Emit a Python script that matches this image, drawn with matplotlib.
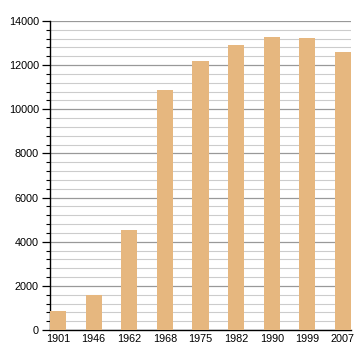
import matplotlib
matplotlib.use("Agg")
import matplotlib.pyplot as plt
from matplotlib.ticker import MultipleLocator

years = ["1901", "1946", "1962", "1968", "1975", "1982", "1990", "1999", "2007"]
population = [870, 1570, 4530, 10870, 12190, 12910, 13280, 13230, 12600]

plt.rcParams['font.family'] = ['Liberation Sans', 'DejaVu Sans']

fig = plt.figure(figsize=(3.6, 3.6), dpi=100)
ax = fig.add_axes([50/360, 30/360, 301/360, 309/360])

x = list(range(len(years)))
ax.bar(x, population, width=0.45, color="#E6B77F", zorder=3)

ax.set_xlim(-0.225, len(years) - 1 + 0.225)
ax.set_ylim(0, 14000)
ax.set_xticks(x)
ax.set_xticklabels(years)
ax.yaxis.set_major_locator(MultipleLocator(2000))
ax.yaxis.set_minor_locator(MultipleLocator(400))

ax.grid(axis='y', which='major', color='#999999', linewidth=0.9, zorder=0)
ax.grid(axis='y', which='minor', color='#cccccc', linewidth=0.8, zorder=0)

for s in ['top', 'right']:
    ax.spines[s].set_visible(False)
ax.spines['left'].set_linewidth(1.0)
ax.spines['bottom'].set_linewidth(1.0)

ax.tick_params(axis='y', which='major', length=6, width=0.9, labelsize=7.8, pad=2)
ax.tick_params(axis='y', which='minor', length=3, width=0.8)
ax.tick_params(axis='x', length=0, labelsize=7.8, pad=3)

fig.savefig("out.png", dpi=100)
